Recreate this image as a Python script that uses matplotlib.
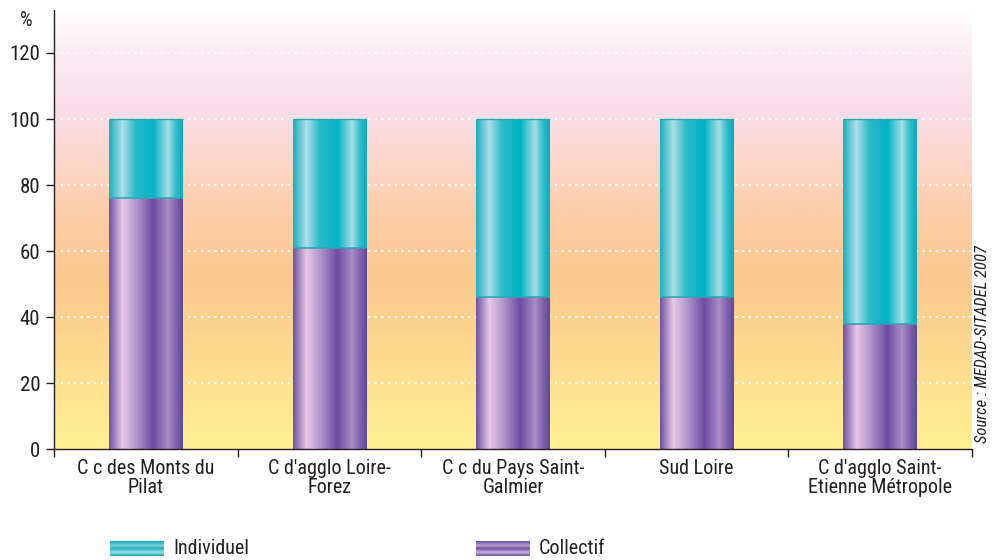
import matplotlib
matplotlib.use("Agg")
import matplotlib.pyplot as plt
import numpy as np
from matplotlib.colors import LinearSegmentedColormap
from matplotlib import font_manager

# pick a narrow face if one is around, else plain Liberation Sans
names = {f.name for f in font_manager.fontManager.ttflist}
narrow = [n for n in ['Roboto Condensed', 'Liberation Sans Narrow', 'Open Sans Condensed'] if n in names]
plt.rcParams['font.family'] = narrow + ['Liberation Sans', 'DejaVu Sans']
condensed = bool(narrow)

# data
categories = ["C c des Monts du\nPilat", "C d'agglo Loire-\nForez", "C c du Pays Saint-\nGalmier",
              "Sud Loire", "C d'agglo Saint-\nEtienne Métropole"]
collectif = [76, 61, 46, 46, 38]
individuel = [24, 39, 54, 54, 62]
yticks = [0, 20, 40, 60, 80, 100, 120]

# colour ramps for the shaded cylinders
purple_cmap = LinearSegmentedColormap.from_list("purple", [
    (0.0, "#6a52a2"), (0.18, "#e8c8e4"), (0.35, "#b69ccd"), (0.6, "#6e4ca2"),
    (0.8, "#aa8cc6"), (0.9, "#8466b0"), (1.0, "#5a4a9a")])
cyan_cmap = LinearSegmentedColormap.from_list("cyan", [
    (0.0, "#18aebe"), (0.18, "#b0e0e6"), (0.35, "#2ebccb"), (0.6, "#00b2c5"),
    (0.8, "#a8dee4"), (0.9, "#36bfcd"), (1.0, "#0aa9bc")])
bg_cmap = LinearSegmentedColormap.from_list("bg", [
    (0.0, "#fff193"), (0.22, "#fdd98f"), (0.38, "#fcc98e"), (0.52, "#fccca4"),
    (0.62, "#fcd4c0"), (0.77, "#f9dde9"), (0.9, "#fbecf3"), (1.0, "#fffefe")])

fig = plt.figure(figsize=(9.95, 5.6), dpi=100)
ax = fig.add_axes([0.0543, 0.198, 0.9226, 0.784])

ymax = 133
x = np.arange(len(categories))
ax.set_xlim(-0.5, len(categories) - 0.5)
ax.set_ylim(0, ymax)

# background gradient
grad = np.linspace(0, 1, 256).reshape(-1, 1)
ax.imshow(grad, cmap=bg_cmap, origin='lower', aspect='auto',
          extent=[-0.5, len(categories) - 0.5, 0, ymax], zorder=0)

for yv in yticks[1:]:
    ax.axhline(yv, color='white', lw=1.3, ls=(0, (1.2, 2.5)), zorder=1)

hgrad = np.linspace(0, 1, 256).reshape(1, -1)
width = 0.4

bars_c = ax.bar(x, collectif, width, facecolor='none', edgecolor='none', zorder=3)
bars_i = ax.bar(x, individuel, width, bottom=collectif, facecolor='none', edgecolor='none', zorder=3)

for bars, cmap in [(bars_c, purple_cmap), (bars_i, cyan_cmap)]:
    for p in bars:
        x0, y0 = p.get_x(), p.get_y()
        im = ax.imshow(hgrad, cmap=cmap, aspect='auto',
                       extent=[x0, x0 + p.get_width(), y0, y0 + p.get_height()], zorder=2)
        im.set_clip_path(p)

# thin edge lines on top of each segment
for xi, c, i in zip(x, collectif, individuel):
    ax.hlines(c, xi - width / 2, xi + width / 2, color='#2aa7b5', lw=1.2, zorder=4)
    ax.hlines(c + i, xi - width / 2, xi + width / 2, color='#1ea8b8', lw=1.0, zorder=4)

ax.set_xlim(-0.5, len(categories) - 0.5)
ax.set_ylim(0, ymax)

fs = 14.5 if condensed else 12
ax.set_yticks(yticks)
ax.set_yticklabels([str(v) for v in yticks], fontsize=fs + 0.5, color='#231f20')
ax.set_xticks(np.arange(-0.5, len(categories), 1.0))
ax.set_xticklabels([])
ax.set_xticks(x, minor=True)
ax.set_xticklabels(categories, minor=True, fontsize=fs, color='#231f20', linespacing=1.0)
ax.tick_params(axis='x', which='minor', length=0, pad=7)
ax.tick_params(axis='x', which='major', length=6, width=1, color='#231f20')
ax.tick_params(axis='y', length=6, width=1, color='#231f20', pad=4)

for s in ['top', 'right']:
    ax.spines[s].set_visible(False)
for s in ['left', 'bottom']:
    ax.spines[s].set_color('#231f20')
    ax.spines[s].set_linewidth(1)

fig.text(0.02, 0.963, '%', fontsize=fs, color='#231f20', ha='left', va='center')
fig.text(0.9875, 0.385, 'Source : MEDAD-SITADEL 2007', fontsize=fs - 2.5, style='italic',
         rotation=90, ha='center', va='center', color='#231f20')

# legend swatches
vgrad = np.linspace(0, 1, 64).reshape(-1, 1)
leg_cyan = LinearSegmentedColormap.from_list("lc", [
    (0.0, "#0aa9bc"), (0.3, "#7fd2dc"), (0.5, "#1eb4c4"), (0.75, "#a8dee4"), (1.0, "#0aa9bc")])
leg_purple = LinearSegmentedColormap.from_list("lp", [
    (0.0, "#6a52a2"), (0.3, "#b9a0d0"), (0.5, "#7250a4"), (0.75, "#c9b0dc"), (1.0, "#6a52a2")])
for left, cmap, label in [(110, leg_cyan, 'Individuel'), (476, leg_purple, 'Collectif')]:
    sax = fig.add_axes([left / 995, 1 - 556 / 560, 54 / 995, 15 / 560])
    sax.imshow(vgrad, cmap=cmap, aspect='auto')
    sax.axis('off')
    fig.text((left + 63) / 995, 1 - 549 / 560, label, fontsize=fs, color='#231f20',
             ha='left', va='center')

fig.savefig('out.png', dpi=100)
